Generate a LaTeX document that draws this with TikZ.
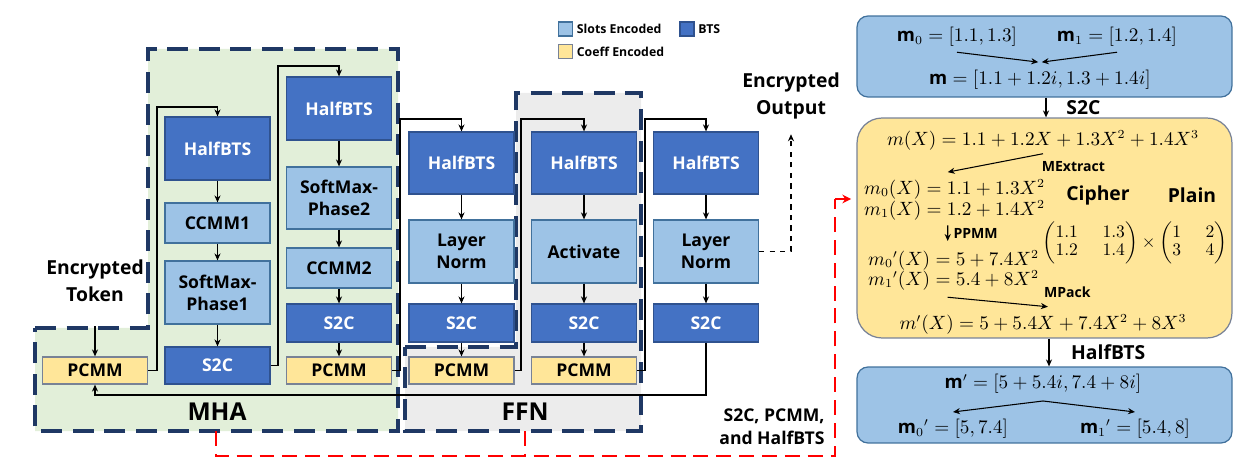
\documentclass[tikz,border=0pt]{standalone}
\usepackage{amsmath, amssymb}
\usepackage{fontspec}
\setmainfont{Open Sans}
\usepackage{tikz}
\usetikzlibrary{arrows.meta}
\definecolor{btsblue}{RGB}{68,114,196}
\definecolor{btsedge}{RGB}{47,82,143}
\definecolor{slotblue}{RGB}{157,195,230}
\definecolor{slotedge}{RGB}{65,113,156}
\definecolor{coeffyellow}{RGB}{255,230,153}
\definecolor{coeffedge}{RGB}{120,130,150}
\definecolor{mhagreen}{RGB}{226,239,217}
\definecolor{ffngrey}{RGB}{236,236,236}
\definecolor{navy}{RGB}{31,56,100}

\tikzset{
  box/.style={draw, line width=0.7pt, minimum width=2.1cm, inner sep=0pt, align=center,
    font=\fontsize{10}{12.5}\selectfont\bfseries},
  bts/.style={box, fill=btsblue, draw=btsedge, text=white},
  slot/.style={box, fill=slotblue, draw=slotedge},
  coeff/.style={box, fill=coeffyellow, draw=coeffedge},
  conn/.style={-{Stealth[length=4pt,width=3.5pt]}, line width=0.6pt},
  region/.style={draw=navy, line width=2.2pt, dash pattern=on 12pt off 6pt},
  title/.style={align=center, font=\fontsize{11}{15.5}\selectfont\bfseries},
  legsq/.style={draw=slotedge, line width=0.6pt, minimum size=0.28cm, inner sep=0pt},
  legtxt/.style={font=\fontsize{7}{8}\selectfont\bfseries, inner sep=2pt},
  panel/.style={draw=slotedge, line width=0.7pt, minimum width=7.5cm, inner sep=0pt},
  eq/.style={font=\fontsize{10.5}{12}\selectfont, inner sep=1pt},
  tag/.style={font=\fontsize{8}{9}\selectfont\bfseries, inner sep=1pt},
  redpath/.style={red, line width=1.5pt, dash pattern=on 8.5pt off 4.5pt},
}

\begin{document}
\begin{tikzpicture}[x=0.02cm, y=-0.02cm]
\useasboundingbox (0,0) rectangle (1245,476);

% MHA and FFN regions
\fill[mhagreen] (35,328) -- (148,328) -- (148,49) -- (398,49) -- (398,431) -- (35,431) -- cycle;
\fill[ffngrey] (405,347) -- (516,347) -- (516,93) -- (641,93) -- (641,431) -- (405,431) -- cycle;
\draw[region] (35,328) -- (148,328) -- (148,49) -- (398,49) -- (398,431) -- (35,431) -- cycle;
\draw[region] (405,347) -- (516,347) -- (516,93) -- (641,93) -- (641,431) -- (405,431) -- cycle;
\node[font=\fontsize{14}{16}\selectfont\bfseries] (mha) at (217,412) {MHA};
\node[font=\fontsize{14}{16}\selectfont\bfseries] (ffn) at (525,412) {FFN};

% legend
\node[legsq, fill=slotblue] (lslot) at (565.5,29) {};
\node[legtxt, anchor=west] (lslottxt) at (lslot.east) {Slots Encoded};
\node[legsq, fill=btsblue, draw=btsedge] (lbts) at (687,29) {};
\node[legtxt, anchor=west] (lbtstxt) at (lbts.east) {BTS};
\node[legsq, fill=coeffyellow, draw=coeffedge] (lcoeff) at (565.5,51.5) {};
\node[legtxt, anchor=west] (lcoefftxt) at (lcoeff.east) {Coeff Encoded};

% column 1
\node[title] (tok) at (95,281) {Encrypted\\Token};
\node[coeff, minimum height=0.54cm] (pcmm1) at (95,370.5) {PCMM};

% column 2
\node[bts, minimum height=1.26cm] (hb2) at (217.5,148.5) {HalfBTS};
\node[slot, minimum height=0.8cm] (cc1) at (217.5,223) {CCMM1};
\node[slot, minimum height=1.26cm] (sm1) at (217.5,292.5) {SoftMax-\\Phase1};
\node[bts, minimum height=0.74cm] (s2c2) at (217.5,365.5) {S2C};

% column 3
\node[bts, minimum height=1.26cm] (hb3) at (339,108.5) {HalfBTS};
\node[slot, minimum height=1.24cm] (sm2) at (339,198) {SoftMax-\\Phase2};
\node[slot, minimum height=0.8cm] (cc2) at (339,268) {CCMM2};
\node[bts, minimum height=0.76cm] (s2c3) at (339,323) {S2C};
\node[coeff, minimum height=0.54cm] (pcmm3) at (339,370.5) {PCMM};

% column 4
\node[bts, minimum height=1.24cm] (hb4) at (461.5,163) {HalfBTS};
\node[slot, minimum height=1.26cm] (ln4) at (461.5,251.5) {Layer\\Norm};
\node[bts, minimum height=0.76cm] (s2c4) at (461.5,323) {S2C};
\node[coeff, minimum height=0.54cm] (pcmm4) at (461.5,370.5) {PCMM};

% column 5
\node[bts, minimum height=1.24cm] (hb5) at (584,163) {HalfBTS};
\node[slot, minimum height=1.26cm] (act5) at (584,251.5) {Activate};
\node[bts, minimum height=0.76cm] (s2c5) at (584,323) {S2C};
\node[coeff, minimum height=0.54cm] (pcmm5) at (584,370.5) {PCMM};

% column 6
\node[bts, minimum height=1.24cm] (hb6) at (706,163) {HalfBTS};
\node[slot, minimum height=1.26cm] (ln6) at (706,251.5) {Layer\\Norm};
\node[bts, minimum height=0.76cm] (s2c6) at (706,323) {S2C};
\node[title] (out) at (791,96) {Encrypted\\Output};

% arrows inside the columns
\draw[conn] (tok.south) ++(0,18) -- (pcmm1.north);
\draw[conn] (hb2) -- (cc1);
\draw[conn] (cc1) -- (sm1);
\draw[conn] (sm1) -- (s2c2);
\draw[conn] (hb3) -- (sm2);
\draw[conn] (sm2) -- (cc2);
\draw[conn] (cc2) -- (s2c3);
\draw[conn] (s2c3) -- (pcmm3);
\draw[conn] (hb4) -- (ln4);
\draw[conn] (ln4) -- (s2c4);
\draw[conn] (s2c4) -- (pcmm4);
\draw[conn] (hb5) -- (act5);
\draw[conn] (act5) -- (s2c5);
\draw[conn] (s2c5) -- (pcmm5);
\draw[conn] (hb6) -- (ln6);
\draw[conn] (ln6) -- (s2c6);

% arrows between the columns
\coordinate (up1) at (157,107);
\coordinate (up2) at (278,66);
\coordinate (up3) at (400,119);
\coordinate (up4) at (521,119);
\coordinate (up5) at (645,119);
\coordinate (back) at (706,395);
\draw[conn] (pcmm1.east) -| (up1) -| (hb2.north);
\draw[conn] (s2c2.east) -| (up2) -| (hb3.north);
\draw[conn] (pcmm3.east) -| (up3) -| (hb4.north);
\draw[conn] (pcmm4.east) -| (up4) -| (hb5.north);
\draw[conn] (pcmm5.east) -| (up5) -| (hb6.north);
\draw[conn] (s2c6.south) -- (back) -| (pcmm1.south);
\draw[conn, dashed] (ln6.east) -| ([yshift=-5pt]out.south);

% red path to the example
\coordinate (mhafoot) at (216,431);
\coordinate (ffnfoot) at (525,431);
\coordinate (redturn) at (835,456);
\coordinate (redup) at (835,199);
\draw[redpath] (mhafoot) |- (redturn) -- (redup);
\draw[redpath] (ffnfoot) -- (ffnfoot |- redturn);
\node[align=right, font=\fontsize{10}{13}\selectfont\bfseries] (redtxt) at (772,427) {S2C, PCMM,\\and HalfBTS};

% right: example
\node[panel, fill=slotblue, minimum height=1.62cm, rounded corners=0.22cm] (slotin) at (1044.5,56.5) {};
\node[panel, fill=coeffyellow, draw=coeffedge, minimum height=4.4cm, rounded corners=0.5cm] (coeffbox) at (1044.5,228) {};
\node[panel, fill=slotblue, minimum height=1.52cm, rounded corners=0.22cm] (slotout) at (1044.5,405) {};
\draw[red, line width=1.5pt, -{Stealth[length=5pt,width=5pt]}] (redup) -- ([xshift=-3pt]coeffbox.west |- redup);

\node[eq] (m0) at (957,37) {$\mathbf{m}_0=[1.1,1.3]$};
\node[eq] (m1) at (1117,37) {$\mathbf{m}_1=[1.2,1.4]$};
\node[eq] (m) at (1040,80) {$\mathbf{m}=[1.1+1.2i,1.3+1.4i]$};
\draw[conn] ([yshift=-2pt]m0.south) -- ([xshift=-1pt,yshift=3.5pt]m.north);
\draw[conn] ([yshift=-2pt]m1.south) -- ([xshift=1pt,yshift=3.5pt]m.north);

\draw[conn] (slotin.south -| 1046,0) -- node[right=8pt, font=\fontsize{11}{13}\selectfont\bfseries] {S2C} (coeffbox.north -| 1046,0);

\node[eq] (mX) at (1043,140) {$m(X)=1.1+1.2X+1.3X^2+1.4X^3$};
\node[eq, anchor=west] (m0X) at (862,189) {$m_0(X)=1.1+1.3X^2$};
\node[eq, anchor=west] (m1X) at (862,210) {$m_1(X)=1.2+1.4X^2$};
\node[eq, anchor=west] (m0pX) at (866,260) {$m_0{}'(X)=5+7.4X^2$};
\node[eq, anchor=west] (m1pX) at (866,280) {$m_1{}'(X)=5.4+8X^2$};
\node[eq] (mpX) at (1043,324) {$m'(X)=5+5.4X+7.4X^2+8X^3$};
\draw[conn] ([yshift=-1pt]mX.south) -- node[tag, pos=0, anchor=north west, xshift=-2pt, yshift=-3pt] {MExtract} ([xshift=48.8pt,yshift=2.8pt]m0X.north west);
\draw[conn] ([xshift=48.8pt,yshift=-2pt]m1X.south west) -- node[tag, right=2pt] {PPMM} ([xshift=46.5pt,yshift=4pt]m0pX.north west);
\draw[conn] ([xshift=46.5pt,yshift=-3pt]m1pX.south west) -- node[tag, pos=1, anchor=south west, xshift=-3.5pt, yshift=4pt] {MPack} ([xshift=2.8pt,yshift=3pt]mpX.north);

\node[font=\fontsize{11}{13}\selectfont\bfseries, inner sep=1pt] (ciph) at (1098,195) {Cipher};
\node[font=\fontsize{11}{13}\selectfont\bfseries, inner sep=1pt] (plain) at (1192,195) {Plain};
\node[font=\fontsize{10}{12}\selectfont, inner sep=0pt] (mats) at (1135,243) {\renewcommand\arraystretch{0.85}\setlength\arraycolsep{7pt}$\begin{pmatrix}1.1 & 1.3\\ 1.2 & 1.4\end{pmatrix}\times\begin{pmatrix}1 & 2\\ 3 & 4\end{pmatrix}$};

\draw[conn] (coeffbox.south -| 1049,0) -- node[right=9pt, font=\fontsize{11}{13}\selectfont\bfseries] {HalfBTS} (slotout.north -| 1049,0);

\node[eq] (mp) at (1043,384) {$\mathbf{m}'=[5+5.4i,7.4+8i]$};
\node[eq] (mp0) at (953,429) {$\mathbf{m}_0{}'=[5,7.4]$};
\node[eq] (mp1) at (1135,429) {$\mathbf{m}_1{}'=[5.4,8]$};
\draw[conn] ([yshift=-3pt]mp.south) -- ([yshift=3pt]mp0.north);
\draw[conn] ([yshift=-3pt]mp.south) -- ([yshift=3pt]mp1.north);

\end{tikzpicture}
\end{document}
